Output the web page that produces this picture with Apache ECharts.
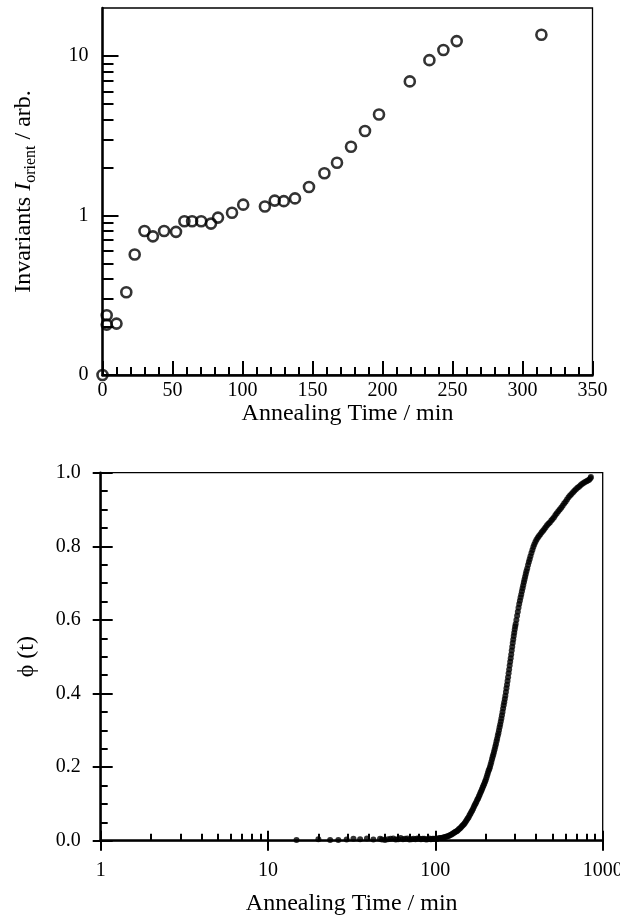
<!DOCTYPE html>
<html>
<head>
<meta charset="utf-8">
<script src="https://cdn.jsdelivr.net/npm/echarts@6/dist/echarts.min.js"></script>
<style>
  html, body { margin: 0; padding: 0; background: #fff; }
  #chart { width: 620px; height: 920px; }
</style>
</head>
<body>
<div id="chart"></div>
<script>
// Upper panel: orientation invariant against annealing time (log scale; the floor 0.1 is labelled "0")
const invTime = [0, 3, 3, 10, 17, 23, 30, 36, 44, 52.5, 58.5, 64, 70.5, 77.5, 82.5, 92.5, 100.5,
  116, 123, 129.5, 137.5, 147.5, 158.5, 167.5, 177.5, 187.5, 197.5, 219.5, 233.5, 243.5, 253, 313.5];
const invValue = [0.1, 0.237, 0.207, 0.21, 0.33, 0.57, 0.80, 0.74, 0.80, 0.79, 0.92, 0.92, 0.92, 0.89, 0.97, 1.04, 1.17,
  1.14, 1.24, 1.23, 1.28, 1.51, 1.84, 2.14, 2.70, 3.39, 4.30, 6.93, 9.42, 10.9, 12.4, 13.6];
const invMajorTicks = [0.1, 1, 10];
const invMinorTicks = [0.2, 0.3, 0.4, 0.5, 0.6, 0.7, 0.8, 0.9, 2, 3, 4, 5, 6, 7, 8, 9];

// Lower panel: transformed fraction phi(t) against annealing time, as [time, phi] samples
const phiSamples = [
  [14.8, 0.002], [20, 0.004], [23.5, 0.002], [26.3, 0.002], [29.5, 0.003], [32.4, 0.005], [35.5, 0.004],
  [39, 0.006], [42.6, 0.003], [46.7, 0.005], [48, 0.003], [50, 0.002], [52, 0.004], [54, 0.005], [56, 0.006],
  [58, 0.003], [60, 0.004], [62, 0.007], [64, 0.004], [66, 0.005], [68, 0.006], [70, 0.003], [72, 0.004],
  [74, 0.005], [76, 0.004], [78, 0.006], [80, 0.006], [82, 0.004], [84, 0.005], [86, 0.005], [88, 0.003],
  [90, 0.004], [92, 0.006], [94, 0.004], [96, 0.005], [98, 0.005],
  [100, 0.005], [102, 0.005], [104, 0.006], [106, 0.007], [108, 0.007], [110, 0.008], [112, 0.009], [114, 0.010],
  [116, 0.011], [118, 0.012], [120, 0.013], [122, 0.015], [124, 0.016], [126, 0.018], [128, 0.020], [130, 0.022],
  [132, 0.024], [134, 0.026], [136, 0.028], [138, 0.031], [140, 0.033], [142, 0.036], [144, 0.039], [146, 0.042],
  [148, 0.045], [150, 0.048], [152, 0.052], [154, 0.056], [156, 0.060], [158, 0.064], [160, 0.069], [162, 0.073],
  [164, 0.078], [166, 0.082], [168, 0.087], [170, 0.092], [172, 0.097], [174, 0.101], [176, 0.106], [178, 0.111],
  [180, 0.115], [182, 0.120], [184, 0.125], [186, 0.130], [188, 0.135], [190, 0.140], [192, 0.145], [194, 0.150],
  [196, 0.155], [198, 0.160],
  [200, 0.165], [202, 0.171], [204, 0.178], [206, 0.184], [208, 0.190], [210, 0.195], [212, 0.200], [214, 0.207],
  [216, 0.214], [218, 0.221], [220, 0.228], [222, 0.234], [224, 0.241], [226, 0.248], [228, 0.255], [230, 0.262],
  [232, 0.270], [234, 0.277], [236, 0.285], [238, 0.292], [240, 0.300], [242, 0.308], [244, 0.316], [246, 0.324],
  [248, 0.332], [250, 0.341], [252, 0.350], [254, 0.359], [256, 0.368], [258, 0.376], [260, 0.385], [262, 0.394],
  [264, 0.404], [266, 0.414], [268, 0.424], [270, 0.434], [272, 0.444], [274, 0.455], [276, 0.465], [278, 0.476],
  [280, 0.486], [282, 0.496], [284, 0.506], [286, 0.517], [288, 0.527], [290, 0.537], [292, 0.547], [294, 0.556],
  [296, 0.565], [298, 0.574], [300, 0.582], [302, 0.589], [305, 0.600], [308, 0.611], [311, 0.622], [314, 0.633],
  [317, 0.643], [320, 0.652], [323, 0.661], [326, 0.669], [329, 0.678], [332, 0.686], [335, 0.694], [338, 0.702],
  [341, 0.710], [344, 0.717], [347, 0.725], [350, 0.732], [354, 0.740], [358, 0.749], [362, 0.757], [366, 0.765],
  [370, 0.773], [375, 0.782], [380, 0.790], [385, 0.798], [390, 0.805], [396, 0.812], [402, 0.818], [409, 0.823],
  [416, 0.828], [424, 0.833], [432, 0.838], [440, 0.842], [448, 0.847], [456, 0.852], [465, 0.857], [474, 0.861],
  [483, 0.865], [493, 0.870], [502, 0.874], [512, 0.879], [522, 0.885], [532, 0.890], [543, 0.895], [554, 0.900],
  [565, 0.905], [576, 0.910], [588, 0.916], [600, 0.921], [612, 0.927], [625, 0.933], [638, 0.938], [651, 0.942],
  [665, 0.947], [678, 0.951], [692, 0.955], [707, 0.959], [722, 0.962], [737, 0.966], [752, 0.969], [768, 0.972],
  [784, 0.975], [800, 0.977], [815, 0.979], [830, 0.981], [845, 0.985], [850, 0.988]
];
const timeMajorTicks = [1, 10, 100, 1000];
const timeMinorTicks = [2, 3, 4, 5, 6, 7, 8, 9, 20, 30, 40, 50, 60, 70, 80, 90, 200, 300, 400, 500, 600, 700, 800, 900];

const FONT = 'Liberation Serif';
const INK = '#000';
const noSplit = { show: false };
const labelStyle = { color: INK, fontFamily: FONT, fontSize: 20 };
const nameStyle = { color: INK, fontFamily: FONT, fontSize: 24 };
const thickLine = { show: true, lineStyle: { color: INK, width: 2.5 } };

// an extra axis that only draws tick marks at the given values
function tickOnlyAxis(base, values, inside, length) {
  return Object.assign({}, base, {
    axisLine: { show: false },
    axisLabel: { show: false },
    axisTick: { show: true, inside: inside, length: length, customValues: values,
      lineStyle: { color: INK, width: 2 } },
    minorTick: { show: false },
    splitLine: noSplit,
    minorSplitLine: noSplit,
    name: ''
  });
}

const topY = { type: 'log', logBase: 10, min: 0.1, max: 20, gridIndex: 0, position: 'left' };
const lowX = { type: 'log', logBase: 10, min: 1, max: 1000, gridIndex: 1, position: 'bottom' };
const lowY = { type: 'value', min: 0, max: 1, interval: 0.2, gridIndex: 1, position: 'left' };

const option = {
  animation: false,
  backgroundColor: '#fff',
  grid: [
    { left: 102.5, top: 8, width: 490, height: 367, show: true, borderColor: INK, borderWidth: 1.3,
      containLabel: false, outerBoundsMode: 'none' },
    { left: 100.7, top: 472.7, width: 502, height: 368, show: true, borderColor: INK, borderWidth: 1.3,
      containLabel: false, outerBoundsMode: 'none' }
  ],
  xAxis: [
    {
      type: 'value', min: 0, max: 350, interval: 50, gridIndex: 0, position: 'bottom',
      axisLine: thickLine,
      axisTick: { show: true, inside: true, length: 14, lineStyle: { color: INK, width: 2 } },
      minorTick: { show: true, splitNumber: 5, length: 8, lineStyle: { color: INK, width: 2 } },
      axisLabel: Object.assign({ margin: 6 }, labelStyle),
      splitLine: noSplit, minorSplitLine: noSplit,
      name: 'Annealing Time / min', nameLocation: 'middle', nameGap: 23, nameTextStyle: nameStyle
    },
    Object.assign({}, lowX, {
      axisLine: thickLine,
      axisTick: { show: true, inside: true, length: 10, customValues: timeMajorTicks,
        lineStyle: { color: INK, width: 2 } },
      axisLabel: Object.assign({ margin: 20, customValues: timeMajorTicks, showMinLabel: true, showMaxLabel: true,
        formatter: v => String(Math.round(v)) }, labelStyle),
      splitLine: noSplit, minorSplitLine: noSplit,
      name: 'Annealing Time / min', nameLocation: 'middle', nameGap: 51, nameTextStyle: nameStyle
    }),
    tickOnlyAxis(lowX, timeMajorTicks, false, 10),
    tickOnlyAxis(lowX, timeMinorTicks, true, 7)
  ],
  yAxis: [
    Object.assign({}, topY, {
      axisLine: thickLine,
      axisTick: { show: true, inside: true, length: 16, customValues: invMajorTicks,
        lineStyle: { color: INK, width: 2 } },
      axisLabel: Object.assign({ margin: 14, customValues: invMajorTicks,
        formatter: v => (v < 0.5 ? '0' : String(Math.round(v))) }, labelStyle),
      splitLine: noSplit, minorSplitLine: noSplit,
      name: '{t|Invariants }{i|I}{s|orient}{t| / arb.}',
      nameLocation: 'middle', nameGap: 64, nameRotate: 90,
      nameTextStyle: {
        rich: {
          t: { color: INK, fontFamily: FONT, fontSize: 24 },
          i: { color: INK, fontFamily: FONT, fontSize: 24, fontStyle: 'italic' },
          s: { color: INK, fontFamily: FONT, fontSize: 16, padding: [13, 0, 0, 0] }
        }
      }
    }),
    tickOnlyAxis(topY, invMinorTicks, true, 11),
    Object.assign({}, lowY, {
      axisLine: thickLine,
      axisTick: { show: true, inside: true, length: 12, lineStyle: { color: INK, width: 2 } },
      minorTick: { show: true, splitNumber: 4, length: 7, lineStyle: { color: INK, width: 2 } },
      axisLabel: Object.assign({ margin: 20, formatter: v => v.toFixed(1) }, labelStyle),
      splitLine: noSplit, minorSplitLine: noSplit,
      name: '\u03D5 (t)', nameLocation: 'middle', nameGap: 62, nameRotate: 90, nameTextStyle: nameStyle
    }),
    Object.assign({}, lowY, {
      axisLine: { show: false },
      axisLabel: { show: false },
      axisTick: { show: true, inside: false, length: 8, lineStyle: { color: INK, width: 2 } },
      splitLine: noSplit, minorSplitLine: noSplit
    })
  ],
  series: [
    {
      type: 'scatter', xAxisIndex: 0, yAxisIndex: 0, clip: false,
      symbol: 'circle', symbolSize: 10,
      itemStyle: { color: 'rgba(255,255,255,0)', borderColor: INK, borderWidth: 2.6 },
      data: invTime.map((t, i) => [t, invValue[i]])
    },
    {
      type: 'scatter', xAxisIndex: 1, yAxisIndex: 2, clip: false,
      symbol: 'circle', symbolSize: 6,
      itemStyle: { color: INK },
      data: phiSamples
    }
  ]
};

echarts.init(document.getElementById('chart'), null, { renderer: 'canvas' }).setOption(option);
</script>
</body>
</html>
